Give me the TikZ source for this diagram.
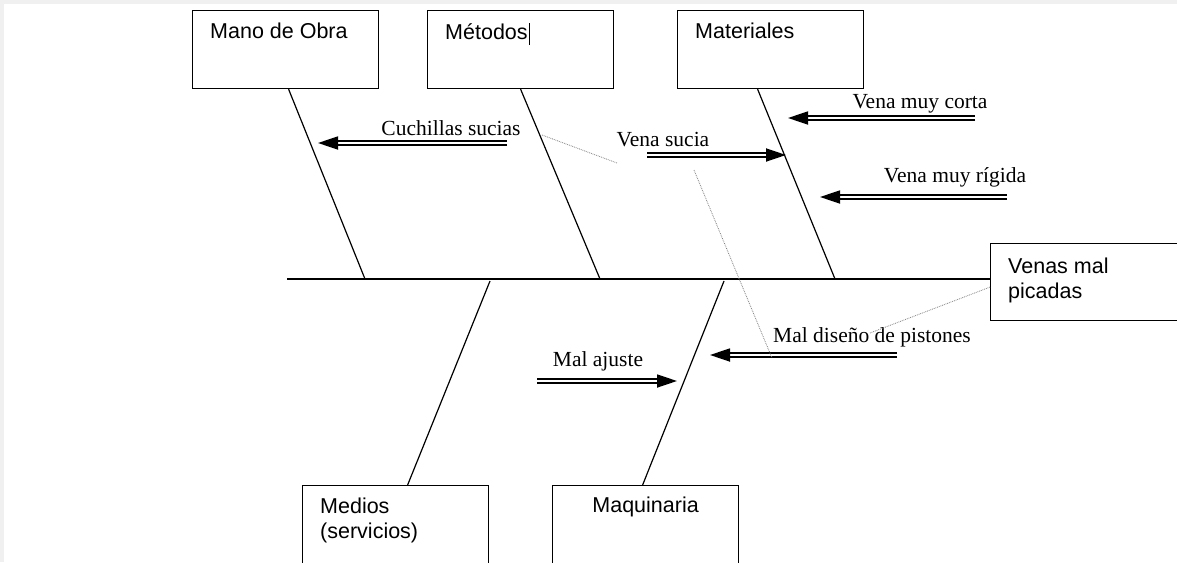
\documentclass[tikz,border=0pt]{standalone}
\usepackage{fontspec}
\setmainfont{Liberation Serif}
\newfontfamily\cajafont{Liberation Sans}
\usetikzlibrary{arrows.meta}

\begin{document}
\begin{tikzpicture}[x=1pt,y=-1pt,
    caja/.style={draw,line width=1.2pt,inner sep=0pt,minimum width=186pt,minimum height=78pt,anchor=north west},
    texto/.style={inner sep=0pt,align=left,font=\cajafont\fontsize{21.5}{25}\selectfont},
    rotulo/.style={texto,anchor=north west,xshift=18pt,yshift=-13pt},
    rotulocentro/.style={texto,anchor=north,yshift=-12pt},
    espina/.style={line width=1.2pt},
    flecha/.style={line width=1.8pt,double,double distance=2.4pt,-{Triangle[length=20pt,width=13pt]}},
    causa/.style={anchor=base,inner sep=0pt,font=\fontsize{21.5}{25}\selectfont},
    punteado/.style={densely dotted,line width=0.8pt,gray}]
    \useasboundingbox (0,0) rectangle (1177,562);
    \fill[gray!12] (0,0) rectangle (1177,562);
    \fill[white] (4,4) rectangle (1177,562);

    % cajas de causas
    \node[caja,label={[rotulo]north west:Mano de Obra}] (mano) at (192,10) {};
    \node[caja,label={[rotulo]north west:{M\'etodos\kern1pt\rule[-6pt]{1.2pt}{22pt}}}] (metodos) at (427,10) {};
    \node[caja,label={[rotulo]north west:Materiales}] (materiales) at (677,10) {};
    \node[caja,label={[rotulo]north west:{Medios\\(servicios)}}] (medios) at (302,485) {};
    \node[caja,label={[rotulocentro]north:Maquinaria}] (maquinaria) at (552,485) {};
    \node[caja,minimum width=200pt,minimum height=77pt,
        label={[rotulo,yshift=-2pt]north west:{Venas mal\\picadas}}] (efecto) at (990,243) {};

    % espina central
    \coordinate (cola) at (287,279);
    \draw[espina] (cola) -- (efecto.west |- cola);

    \coordinate (e1) at (365,279);
    \coordinate (e2) at (600,279);
    \coordinate (e3) at (835,279);
    \coordinate (e4) at (490,281);
    \coordinate (e5) at (724,281);
    \draw[espina] ([xshift=3pt]mano.south) -- (e1);
    \draw[espina] (metodos.south) -- (e2);
    \draw[espina] ([xshift=-13pt]materiales.south) -- (e3);
    \draw[espina] (e4) -- ([xshift=12pt]medios.north);
    \draw[espina] (e5) -- ([xshift=-3pt]maquinaria.north);

    % subcausas
    \coordinate (c1a) at (507,143); \coordinate (c1b) at (318,143);
    \draw[flecha] (c1a) -- (c1b);
    \node[causa] (cuchillas) at (451,135) {Cuchillas sucias};

    \coordinate (c2a) at (975,118); \coordinate (c2b) at (788,118);
    \draw[flecha] (c2a) -- (c2b);
    \node[causa] (corta) at (920,108) {Vena muy corta};

    \coordinate (c3a) at (647,155); \coordinate (c3b) at (786,155);
    \draw[flecha] (c3a) -- (c3b);
    \node[causa] (sucia) at (663,146) {Vena sucia};

    \coordinate (c4a) at (1007,197); \coordinate (c4b) at (820,197);
    \draw[flecha] (c4a) -- (c4b);
    \node[causa] (rigida) at (955,182) {Vena muy r\'igida};

    \coordinate (c5a) at (897,355); \coordinate (c5b) at (710,355);
    \draw[flecha] (c5a) -- (c5b);
    \node[causa] (pistones) at (872,342) {Mal dise\~no de pistones};

    \coordinate (c6a) at (537,381); \coordinate (c6b) at (677,381);
    \draw[flecha] (c6a) -- (c6b);
    \node[causa] (ajuste) at (598,366) {Mal ajuste};

    % lineas punteadas
    \coordinate (p1a) at (542,135); \coordinate (p1b) at (617,163);
    \coordinate (p2a) at (694,170); \coordinate (p2b) at (772,358);
    \coordinate (p3b) at (870,333);
    \draw[punteado] (p1a) -- (p1b);
    \draw[punteado] (p2a) -- (p2b);
    \draw[punteado] ([yshift=-5pt]efecto.west) -- (p3b);
\end{tikzpicture}
\end{document}
